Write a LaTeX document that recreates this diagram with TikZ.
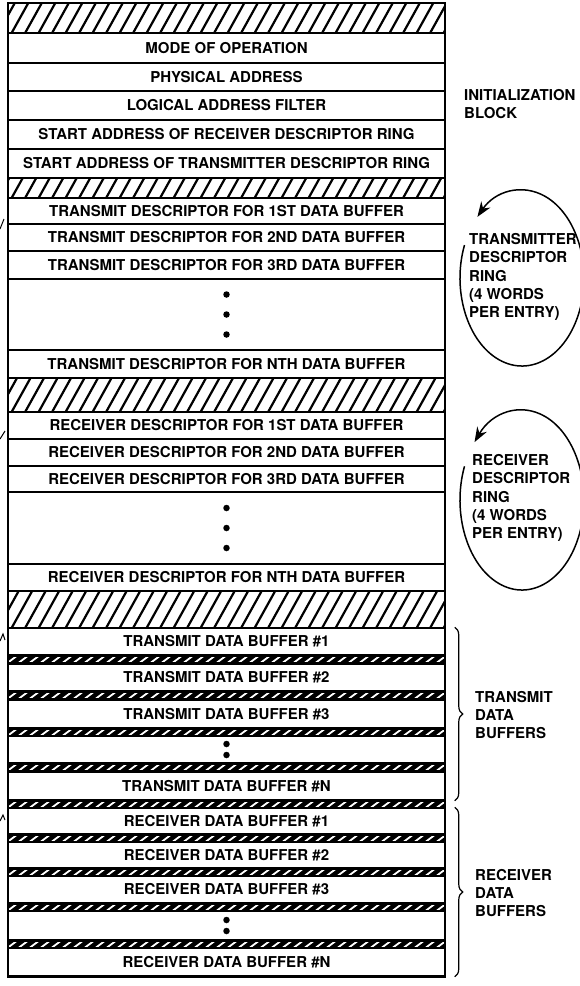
\documentclass[tikz,border=0pt]{standalone}
\usepackage{fontspec}
\setmainfont{TeX Gyre Heros}
\usetikzlibrary{positioning, arrows.meta, decorations.pathreplacing}

\begin{document}
\begin{tikzpicture}[
    x=1pt, y=-1pt,
    >=Stealth,
    cell/.style={draw, line width=1.5pt, minimum width=437pt, inner sep=0pt, font=\fontsize{15}{18}\selectfont\bfseries},
    hatchline/.style={line width=2.2pt},
    sidetext/.style={anchor=west, align=left, inner sep=0pt, font=\fontsize{15}{18.3}\selectfont\bfseries},
    bullet/.style={circle, fill, minimum size=6.5pt, inner sep=0pt},
    ring/.style={line width=1.5pt, -{Stealth[length=15pt, width=11pt]}},
    curly/.style={decorate, decoration={brace, amplitude=8pt}, line width=1.2pt}
]
    \useasboundingbox (0,0) rectangle (580,986);

    % --- Initialization block ---
    \node[cell, minimum height=30pt] (mode)    at (226.5,48)    {MODE OF OPERATION};
    \node[cell, minimum height=28pt] (phys)    at (226.5,77)    {PHYSICAL ADDRESS};
    \node[cell, minimum height=29pt] (ladrf)   at (226.5,105.5) {LOGICAL ADDRESS FILTER};
    \node[cell, minimum height=29pt] (rdra)    at (226.5,134.5) {START ADDRESS OF RECEIVER DESCRIPTOR RING};
    \node[cell, minimum height=29pt] (tdra)    at (226.5,163.5) {START ADDRESS OF TRANSMITTER DESCRIPTOR RING};

    % --- Transmit descriptor ring ---
    \node[cell, minimum height=26pt] (tmd1)    at (226.5,211)   {TRANSMIT DESCRIPTOR FOR 1ST DATA BUFFER};
    \node[cell, minimum height=27pt] (tmd2)    at (226.5,237.5) {TRANSMIT DESCRIPTOR FOR 2ND DATA BUFFER};
    \node[cell, minimum height=28pt] (tmd3)    at (226.5,265)   {TRANSMIT DESCRIPTOR FOR 3RD DATA BUFFER};
    \node[cell, minimum height=71pt] (tmdgap)  at (226.5,314.5) {};
    \node[cell, minimum height=28pt] (tmdn)    at (226.5,364)   {TRANSMIT DESCRIPTOR FOR NTH DATA BUFFER};

    % --- Receive descriptor ring ---
    \node[cell, minimum height=27pt] (rmd1)    at (226.5,425.5) {RECEIVER DESCRIPTOR FOR 1ST DATA BUFFER};
    \node[cell, minimum height=27pt] (rmd2)    at (226.5,452.5) {RECEIVER DESCRIPTOR FOR 2ND DATA BUFFER};
    \node[cell, minimum height=26pt] (rmd3)    at (226.5,479)   {RECEIVER DESCRIPTOR FOR 3RD DATA BUFFER};
    \node[cell, minimum height=72pt] (rmdgap)  at (226.5,528)   {};
    \node[cell, minimum height=27pt] (rmdn)    at (226.5,577.5) {RECEIVER DESCRIPTOR FOR NTH DATA BUFFER};

    % --- Data buffers ---
    \node[cell, minimum height=27pt] (tbuf1)   at (226.5,641.5) {TRANSMIT DATA BUFFER \#1};
    \node[cell, minimum height=27pt] (tbuf2)   at (226.5,677.5) {TRANSMIT DATA BUFFER \#2};
    \node[cell, minimum height=28pt] (tbuf3)   at (226.5,714)   {TRANSMIT DATA BUFFER \#3};
    \node[cell, minimum height=27pt] (tbufgap) at (226.5,749.5) {};
    \node[cell, minimum height=28pt] (tbufn)   at (226.5,786)   {TRANSMIT DATA BUFFER \#N};
    \node[cell, minimum height=26pt] (rbuf1)   at (226.5,821)   {RECEIVER DATA BUFFER \#1};
    \node[cell, minimum height=26pt] (rbuf2)   at (226.5,855)   {RECEIVER DATA BUFFER \#2};
    \node[cell, minimum height=27pt] (rbuf3)   at (226.5,889.5) {RECEIVER DATA BUFFER \#3};
    \node[cell, minimum height=29pt] (rbufgap) at (226.5,925.5) {};
    \node[cell, minimum height=28pt] (rbufn)   at (226.5,962)   {RECEIVER DATA BUFFER \#N};

    % --- Dots ---
    \foreach \y in {294.5,314.5,334.5,508,528,548,744,755,920,931}
        \node[bullet] at (226.5,\y) {};

    % --- Hatched spacers ---
    \foreach \ya/\yb in {3/33, 178/198, 378/412, 591/628} {
        \begin{scope}
            \clip (8,\ya) rectangle (445,\yb);
            \foreach \x in {-30,-16.5,...,450}
                \draw[hatchline] (\x,\yb+2) -- ++(30,-54);
        \end{scope}
    }
    \foreach \ya in {655,691,728,763,800,834,868,903,940} {
        \fill (8,\ya) rectangle (445,\ya+9);
        \begin{scope}
            \clip (8,\ya+2.2) rectangle (445,\ya+6.8);
            \foreach \x in {8,19,...,445}
                \draw[white, line width=1.8pt] (\x,\ya+7.5) -- ++(8,-6);
        \end{scope}
    }

    % --- Outer frame ---
    \draw[line width=2.6pt] (8,3) rectangle (445,977);

    % --- Right-hand labels ---
    \node[sidetext] (initlbl)  at (464,104) {INITIALIZATION\\BLOCK};
    \node[sidetext] (txdrlbl)  at (469,277) {TRANSMITTER\\DESCRIPTOR\\RING\\(4 WORDS\\PER ENTRY)};
    \node[sidetext] (rxdrlbl)  at (472,498) {RECEIVER\\DESCRIPTOR\\RING\\(4 WORDS\\PER ENTRY)};
    \node[sidetext] (txbuflbl) at (475,715) {TRANSMIT\\DATA\\BUFFERS};
    \node[sidetext] (rxbuflbl) at (475,893) {RECEIVER\\DATA\\BUFFERS};

    % --- Rings ---
    \coordinate (txhub) at (522,278);
    \coordinate (rxhub) at (522,500);
    \draw[ring] ([shift={(-158:62 and 88)}]txhub) arc[start angle=-158, end angle=-496, x radius=62, y radius=88];
    \draw[ring] ([shift={(-158:62 and 90)}]rxhub) arc[start angle=-158, end angle=-500, x radius=62, y radius=90];

    % --- Braces ---
    \draw[curly] ([xshift=9pt]tbuf1.north east) -- ([xshift=9pt]tbufn.south east);
    \draw[curly] ([xshift=9pt]rbuf1.north east) -- ([xshift=9pt]rbufn.south east);

    % --- Cut-off marks at left edge ---
    \draw[line width=1pt] (0,229) -- (4,219);
    \draw[line width=1pt] (0,439) -- (5,431);
    \draw[line width=1pt] (0,641) -- (3,634) -- (5,640);
    \draw[line width=1pt] (0,821) -- (3,815) -- (5,820);

\end{tikzpicture}
\end{document}
